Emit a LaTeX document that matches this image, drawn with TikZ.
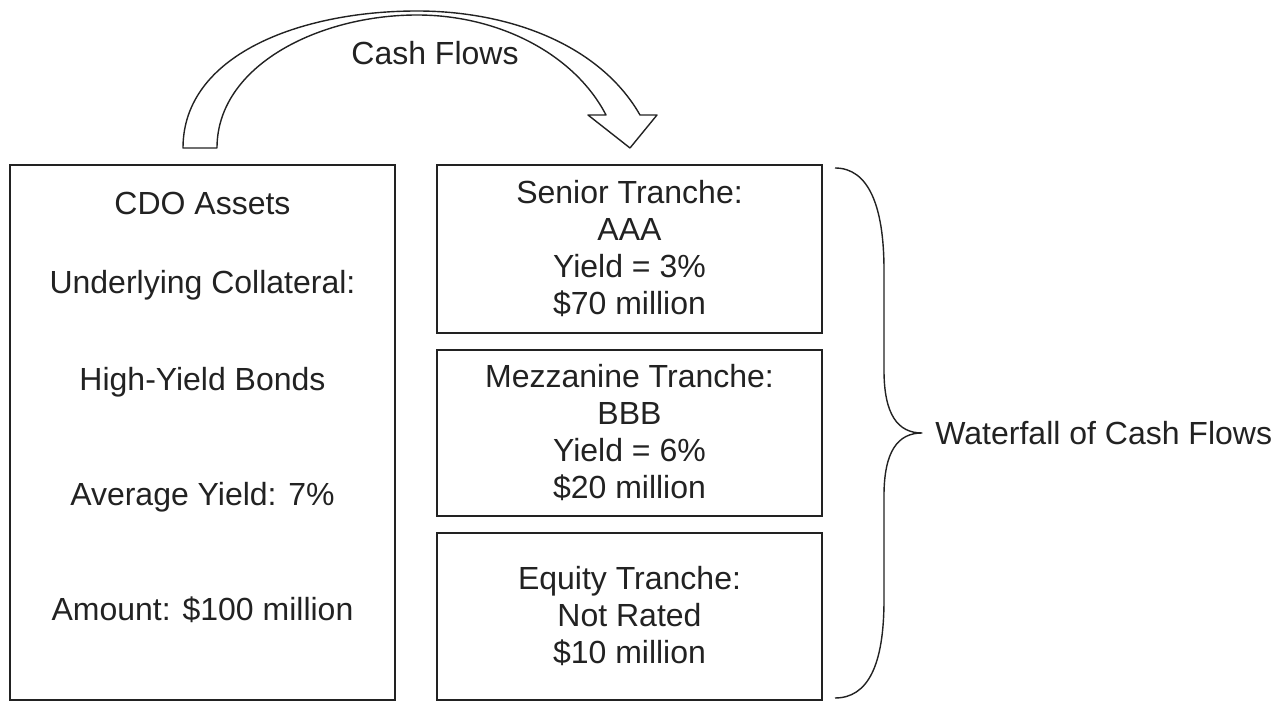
\documentclass[tikz,border=0pt]{standalone}
\usepackage{fontspec}
\setmainfont{Liberation Sans}
\definecolor{ink}{HTML}{222222}
\tikzset{
  box/.style={draw=ink, line width=0.8pt, inner sep=0pt},
  lbl/.style={text=ink, font=\fontsize{16}{18.5}\selectfont, align=center, inner sep=0pt},
  outline/.style={draw=ink, line width=0.7pt, line join=round}
}
\begin{document}
\begin{tikzpicture}[x=0.5pt, y=-0.5pt]
\useasboundingbox (0,0) rectangle (1282,710);

% left box
\node[box, minimum width=192.5pt, minimum height=267.5pt] (assets) at (202.5,432.5) {};
\node[lbl] (title) at (202.5,203) {CDO Assets};
\node[lbl] (coll) at (202.5,285) {Underlying Collateral:};
\node[lbl] (bonds) at (202.5,382) {High-Yield Bonds};
\node[lbl] (avg) at (202.5,497) {Average Yield: 7\%};
\node[lbl] (amount) at (202.5,610) {Amount: \$100 million};

% tranches
\node[box, lbl, minimum width=192.5pt, minimum height=84pt] (senior) at (629.5,249) {Senior Tranche:\\AAA\\Yield = 3\%\\\$70 million};
\node[box, lbl, minimum width=192.5pt, minimum height=83pt] (mezz) at (629.5,433) {Mezzanine Tranche:\\BBB\\Yield = 6\%\\\$20 million};
\node[box, lbl, minimum width=192.5pt, minimum height=83.5pt] (equity) at (629.5,616.5) {Equity Tranche:\\Not Rated\\\$10 million};

% hollow arrow
\draw[outline] (183,148) -- (217,148) .. controls (217,65) and (320,15) .. (417,15)
  .. controls (500,15) and (575,55) .. (606,115) -- (588,115) -- (630,148) -- (657,115) -- (640,115)
  .. controls (600,45) and (510,11) .. (417,11) .. controls (300,11) and (183,55) .. (183,148) -- cycle;
\node[lbl] (flow) at (435,53) {Cash Flows};

% brace
\draw[outline] (835,168) .. controls (868,168) and (884,205) .. (884,270) -- (884,370)
  .. controls (884,415) and (898,433) .. (922,433)
  .. controls (898,433) and (884,451) .. (884,496) -- (884,600)
  .. controls (884,665) and (868,698) .. (835,698);
\node[lbl, anchor=west] (waterfall) at (935,433) {Waterfall of Cash Flows};

\end{tikzpicture}
\end{document}
